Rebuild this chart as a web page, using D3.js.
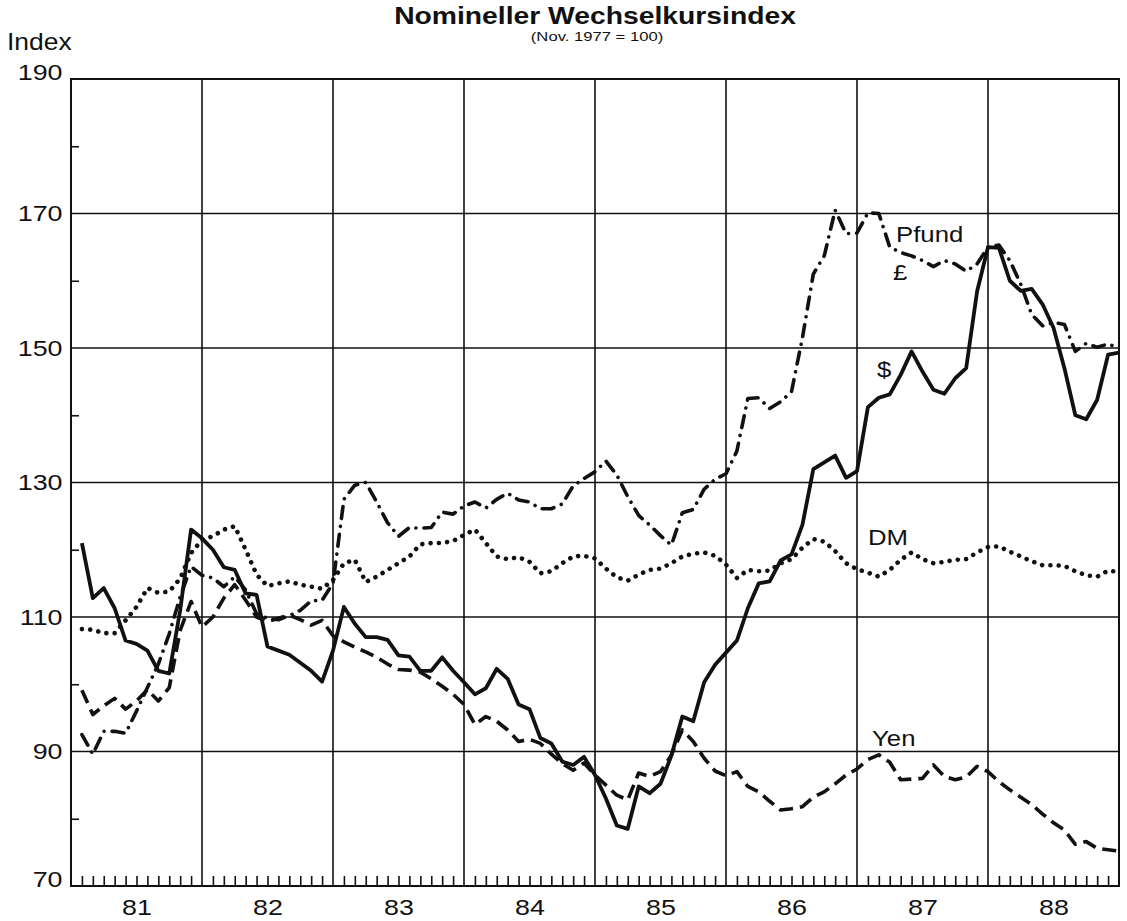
<!DOCTYPE html>
<html>
<head>
<meta charset="utf-8">
<script src="https://cdn.jsdelivr.net/npm/d3@7"></script>
<style>
  body { margin: 0; background: #fff; }
  text { font-family: "Liberation Sans", Arial, Helvetica, sans-serif; fill: #111; }
</style>
</head>
<body>
<script>
// Jahresbeschriftung und Index-Ticks
var years = ['81', '82', '83', '84', '85', '86', '87', '88'];
var yLabels = [70, 90, 110, 130, 150, 170, 190];
var yMinor = [80, 100, 120, 140, 160, 180];

// Monatswerte Jan 1981 - Dez 1988 (Nov. 1977 = 100)
var usd = [
  121, 112.8, 114.3, 111.3, 106.5, 106, 105, 102, 101.6, 111, 123, 121.7,
  120, 117.4, 117, 113.5, 113.3, 105.6, 105, 104.4, 103.2, 102, 100.4, 105,
  111.5, 109, 107, 107, 106.6, 104.3, 104.1, 102, 102, 104, 102, 100.3,
  98.5, 99.4, 102.3, 100.8, 97, 96.3, 92, 91.2, 88.5, 88, 89.2, 86.5,
  83, 79, 78.5, 84.8, 83.8, 85.2, 89.4, 95.2, 94.5, 100.3, 102.9, 104.7,
  106.5, 111.3, 115, 115.3, 118.4, 119.3, 123.7, 132, 133, 134, 130.7, 131.7,
  141.2, 142.6, 143.1, 146, 149.5, 146.5, 143.8, 143.2, 145.5, 147, 158.4, 165,
  164.9, 160, 158.5, 158.8, 156.5, 153, 147, 140, 139.4, 142.3, 149, 149.3
];

var dm = [
  108.2, 108.1, 107.6, 107.6, 109.5, 111.5, 114.3, 113.6, 113.8, 115.7, 119.5, 121.5,
  122, 123, 123.5, 120, 116.3, 114.6, 115, 115.3, 114.8, 114.5, 114.2, 115.5,
  118, 118.5, 115.2, 116, 117, 118, 119, 120.8, 121, 121, 121.3, 122.2,
  123, 121, 119, 118.6, 118.9, 118.2, 116.5, 116.8, 118, 119, 119.1, 118.7,
  117.2, 115.9, 115.4, 116.3, 117, 117.2, 118, 119, 119.4, 119.6, 119.1, 117.8,
  115.8, 117, 116.8, 116.9, 118, 118.6, 120.3, 121.6, 121.2, 119.8, 118, 117.1,
  116.6, 116, 117, 118.5, 119.6, 118.6, 118, 118.2, 118.5, 118.6, 119.6, 120.4,
  120.5, 119.7, 119, 118.3, 117.7, 117.7, 117.6, 116.8, 116.2, 116, 116.9, 116.7
];

var yen = [
  99.1, 95.5, 96.8, 97.9, 96.3, 97.5, 99.2, 97.5, 99.5, 108, 112.3, 108.5,
  110, 112.8, 114.8, 112.5, 110, 109.3, 109.8, 110.3, 109.6, 108.8, 109.5, 107.2,
  106.3, 105.5, 104.8, 104, 103, 102.2, 102.1, 101.8, 100.8, 99.7, 98.5, 97,
  94, 95.2, 94.5, 93.2, 91.5, 91.8, 91.2, 89.6, 88.2, 87.2, 88.3, 86.5,
  85, 83.5, 82.8, 86.8, 86.3, 87, 89.5, 93.2, 91.5, 89, 87.1, 86.4,
  87, 84.8, 84, 82.6, 81.3, 81.5, 81.8, 83.2, 84, 85.2, 86.5, 87.4,
  88.8, 89.5, 88.4, 85.8, 85.9, 86, 88, 86.3, 85.8, 86.2, 87.8, 87,
  85.5, 84.3, 83.2, 82.1, 80.7, 79.4, 78.3, 76.2, 76.6, 75.6, 75.4, 75.2
];

var gbp = [
  92.5, 89.6, 93, 93, 92.7, 96, 99.5, 103, 107.5, 113, 117.5, 116.2,
  115.8, 114.5, 116, 114, 110.5, 109.8, 109.6, 110.2, 111, 112.4, 112.5, 115,
  127.5, 129.6, 130, 127.1, 124, 122, 123.3, 123.2, 123.3, 125.6, 125.3, 126.5,
  127.1, 126.2, 127.5, 128.4, 127.4, 127.1, 126.1, 126.1, 126.8, 129.5, 130.6, 131.6,
  133.2, 131.1, 127.9, 125.1, 123.7, 122.1, 120.7, 125.5, 126, 129, 130.5, 131.3,
  134.7, 142.5, 142.6, 141, 142, 143.5, 151.5, 161, 163.7, 170.5, 167, 167.1,
  170.1, 170, 165, 164.2, 163.7, 163, 162.1, 163, 162.5, 161.4, 162.5, 165,
  165.3, 163, 159.5, 155, 153.3, 153.8, 153.5, 149.5, 150.7, 150.1, 150.6, 150
];

// Beschriftung der Kurven (Jahr, Indexwert)
var seriesNames = ['Pfund', '£', '$', 'DM', 'Yen'];
var seriesNameYear = [1987.298, 1987.275, 1987.153, 1987.084, 1987.115];
var seriesNameValue = [165.8, 160.1, 145.7, 120.7, 90.8];

var width = 1127;
var height = 921;
var margin = { left: 71, right: 8, top: 79, bottom: 35 };

var xScale = d3.scaleLinear()
  .domain([1981, 1989])
  .range([margin.left, width - margin.right]);

var yScale = d3.scaleLinear()
  .domain([70, 190])
  .range([height - margin.bottom, margin.top]);

// Datenpunkt i liegt am Monatsende
function monthPos(i) { return 1981 + (i + 1) / 12; }

var svg = d3.select('body')
  .append('svg')
  .attr('width', width)
  .attr('height', height);

var x0 = xScale.range()[0], x1 = xScale.range()[1];
var y0 = yScale.range()[0], y1 = yScale.range()[1];

// Gitter
svg.append('g')
  .selectAll('line')
  .data(yLabels.filter(function(v) { return v > 70 && v < 190; }))
  .enter().append('line')
  .attr('x1', x0).attr('x2', x1)
  .attr('y1', function(d) { return yScale(d); })
  .attr('y2', function(d) { return yScale(d); })
  .attr('stroke', '#111').attr('stroke-width', 1.6);

svg.append('g')
  .selectAll('line')
  .data(d3.range(1982, 1989))
  .enter().append('line')
  .attr('x1', function(d) { return xScale(d); })
  .attr('x2', function(d) { return xScale(d); })
  .attr('y1', y0).attr('y2', y1)
  .attr('stroke', '#111').attr('stroke-width', 1.6);

svg.append('rect')
  .attr('x', x0).attr('y', y1)
  .attr('width', x1 - x0).attr('height', y0 - y1)
  .attr('fill', 'none')
  .attr('stroke', '#111').attr('stroke-width', 2);

// Monatsstriche unten
var monthTicks = d3.range(1, 96)
  .filter(function(i) { return i % 12 !== 0; })
  .map(function(i) { return 1981 + i / 12; });

var monthAxis = d3.axisBottom(xScale)
  .tickValues(monthTicks)
  .tickSize(-10)
  .tickFormat('');

svg.append('g')
  .attr('transform', 'translate(0,' + y0 + ')')
  .call(monthAxis)
  .call(function(g) { g.select('.domain').remove(); })
  .selectAll('line').attr('stroke', '#111').attr('stroke-width', 1.6);

// Jahreszahlen
var yearAxis = d3.axisBottom(xScale)
  .tickValues(years.map(function(y, i) { return 1981.5 + i; }))
  .tickSize(0)
  .tickPadding(13)
  .tickFormat(function(d, i) { return years[i]; });

svg.append('g')
  .attr('transform', 'translate(0,' + y0 + ')')
  .call(yearAxis)
  .call(function(g) { g.select('.domain').remove(); })
  .selectAll('text')
  .attr('font-size', 22)
  .attr('font-family', '"Liberation Sans", Arial, sans-serif')
  .attr('fill', '#111')
  .attr('transform', 'scale(1.22,1)');

// Index-Achse
var yAxis = d3.axisLeft(yScale)
  .tickValues(yLabels)
  .tickSize(0)
  .tickPadding(7);

svg.append('g')
  .attr('transform', 'translate(' + x0 + ',0)')
  .call(yAxis)
  .call(function(g) { g.select('.domain').remove(); })
  .selectAll('text')
  .attr('font-size', 22)
  .attr('font-family', '"Liberation Sans", Arial, sans-serif')
  .attr('fill', '#111')
  .attr('dy', function(d) { return (d === 70 || d === 190) ? '0' : '0.34em'; })
  .attr('transform', 'scale(1.22,1)');

var yMinorAxis = d3.axisRight(yScale)
  .tickValues(yMinor)
  .tickSize(8)
  .tickFormat('');

svg.append('g')
  .attr('transform', 'translate(' + x0 + ',0)')
  .call(yMinorAxis)
  .call(function(g) { g.select('.domain').remove(); })
  .selectAll('line').attr('stroke', '#111').attr('stroke-width', 1.6);

// Kurven
var line = d3.line()
  .x(function(d, i) { return xScale(monthPos(i)); })
  .y(function(d) { return yScale(d); });

var series = [
  { values: usd, width: 3.8, dash: null, cap: 'butt' },
  { values: yen, width: 3.6, dash: '14,7', cap: 'butt' },
  { values: gbp, width: 3.6, dash: '12,8,0.01,8', cap: 'round' },
  { values: dm, width: 4.6, dash: '0.01,8.3', cap: 'round' }
];

svg.append('g')
  .selectAll('path')
  .data(series)
  .enter().append('path')
  .attr('d', function(s) { return line(s.values); })
  .attr('fill', 'none')
  .attr('stroke', '#111')
  .attr('stroke-width', function(s) { return s.width; })
  .attr('stroke-dasharray', function(s) { return s.dash; })
  .attr('stroke-linecap', function(s) { return s.cap; })
  .attr('stroke-linejoin', 'round');

// Kurvennamen
svg.append('g')
  .selectAll('g')
  .data(seriesNames)
  .enter().append('g')
  .attr('transform', function(d, i) {
    return 'translate(' + xScale(seriesNameYear[i]) + ',' + yScale(seriesNameValue[i]) + ')';
  })
  .append('text')
  .attr('font-size', 23)
  .attr('transform', 'scale(1.12,1)')
  .text(function(d) { return d; });

// Titel
var title = svg.append('g').attr('transform', 'translate(595,24)');
title.append('text')
  .attr('text-anchor', 'middle')
  .attr('font-size', 23)
  .attr('font-weight', 'bold')
  .attr('transform', 'scale(1.23,1)')
  .text('Nomineller Wechselkursindex');

var sub = svg.append('g').attr('transform', 'translate(597,41)');
sub.append('text')
  .attr('text-anchor', 'middle')
  .attr('font-size', 13)
  .attr('transform', 'scale(1.28,1)')
  .text('(Nov. 1977 = 100)');

var idx = svg.append('g').attr('transform', 'translate(7,50)');
idx.append('text')
  .attr('font-size', 23)
  .attr('transform', 'scale(1.15,1)')
  .text('Index');
</script>
</body>
</html>
